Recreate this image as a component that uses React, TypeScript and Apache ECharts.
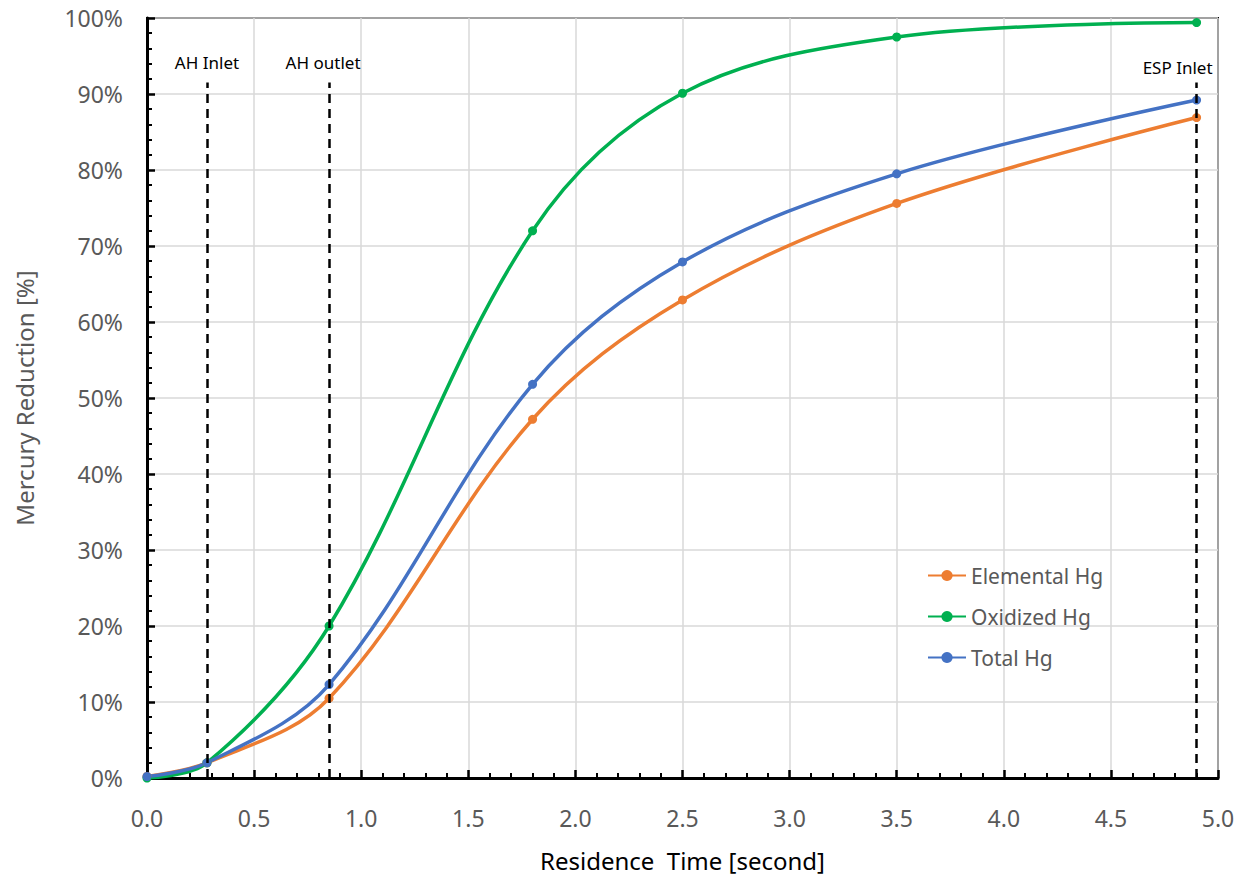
import React, { useEffect, useRef } from "react";
import * as echarts from "echarts";

const timeX = [0, 0.28, 0.85, 1.8, 2.5, 3.5, 4.9];
const elemental = [0.2, 2.0, 10.5, 47.2, 62.9, 75.6, 86.9];
const oxidized = [0.0, 2.0, 20.0, 72.0, 90.1, 97.5, 99.4];
const total = [0.2, 2.0, 12.3, 51.8, 67.9, 79.5, 89.2];

const markerX = [0.28, 0.85, 4.9];
const markerLabels = ["AH Inlet", "AH outlet", "ESP Inlet"];
const markerTop = 91.5;

const seriesNames = ["Elemental Hg", "Oxidized Hg", "Total Hg"];
const seriesColors = ["#ED7D31", "#00B050", "#4472C4"];
const seriesValues = [elemental, oxidized, total];

const FONT = "Noto Sans";

export default function App() {
  const ref = useRef<HTMLDivElement>(null);
  useEffect(() => {
    if (!ref.current) return;
    const chart = echarts.init(ref.current, null, { renderer: "svg" });
    const lineSeries = seriesNames.map((name, i) => ({
      name,
      type: "line",
      smooth: 0.35,
      symbol: "circle",
      symbolSize: 9,
      data: timeX.map((x, j) => [x, seriesValues[i][j]]),
      lineStyle: { color: seriesColors[i], width: 3.5 },
      itemStyle: { color: seriesColors[i] },
      z: 3,
    }));
    const labelOffsets = [
      [0, 0],
      [-6, 0],
      [-19, 5],
    ];
    const markerSeries = {
      name: "markers",
      type: "line",
      data: [],
      z: 4,
      markLine: {
        silent: true,
        symbol: ["none", "none"],
        animation: false,
        lineStyle: { color: "#000", width: 2.5, type: [9, 6] },
        data: markerX.map((x, i) => [
          {
            coord: [x, 0],
            label: {
              show: true,
              position: "end",
              formatter: markerLabels[i],
              color: "#000",
              fontSize: 17,
              fontFamily: FONT,
              distance: 12,
              offset: labelOffsets[i],
            },
          },
          { coord: [x, markerTop] },
        ]),
      },
    };
    chart.setOption({
      animation: false,
      textStyle: { fontFamily: FONT },
      grid: {
        left: 147,
        right: 22,
        top: 18,
        bottom: 102,
        show: true,
        borderColor: "#000",
        borderWidth: 2,
      },
      legend: {
        data: seriesNames,
        orient: "vertical",
        left: 922,
        top: 560,
        itemWidth: 38,
        itemHeight: 14,
        itemGap: 20,
        textStyle: { fontSize: 21, color: "#595959", fontFamily: FONT },
      },
      xAxis: {
        type: "value",
        min: 0,
        max: 5,
        interval: 0.5,
        name: "Residence  Time [second]",
        nameLocation: "middle",
        nameGap: 70,
        nameTextStyle: { fontSize: 24, color: "#000", fontFamily: FONT },
        axisLine: { show: true, onZero: false, lineStyle: { color: "#000", width: 3 } },
        axisTick: { show: true, inside: true, length: 8, lineStyle: { color: "#000", width: 2.5 } },
        minorTick: { show: true, splitNumber: 5, length: 5, lineStyle: { color: "#000", width: 2 } },
        axisLabel: {
          fontSize: 23,
          color: "#595959",
          margin: 28,
          fontFamily: FONT,
          formatter: (v: number) => v.toFixed(1),
        },
        splitLine: { show: true, lineStyle: { color: "#d9d9d9", width: 1.5 } },
      },
      yAxis: {
        type: "value",
        min: 0,
        max: 100,
        interval: 10,
        name: "Mercury Reduction [%]",
        nameLocation: "middle",
        nameGap: 111,
        nameTextStyle: { fontSize: 24, color: "#595959", fontFamily: FONT },
        axisLine: { show: true, onZero: false, lineStyle: { color: "#000", width: 3 } },
        axisTick: { show: true, inside: true, length: 8, lineStyle: { color: "#000", width: 2.5 } },
        minorTick: { show: true, splitNumber: 5, length: 5, lineStyle: { color: "#000", width: 2 } },
        axisLabel: {
          fontSize: 23,
          color: "#595959",
          margin: 24,
          fontFamily: FONT,
          formatter: "{value}%",
        },
        splitLine: { show: true, lineStyle: { color: "#d9d9d9", width: 1.5 } },
      },
      series: [...lineSeries, markerSeries],
    });
    return () => chart.dispose();
  }, []);
  return (
    <div
      ref={ref}
      style={{ position: "fixed", left: 0, top: 0, width: 1240, height: 880, background: "#fff" }}
    />
  );
}
